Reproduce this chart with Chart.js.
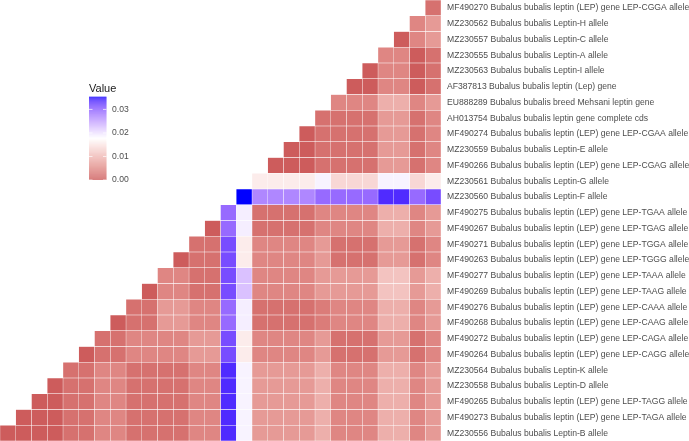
<!DOCTYPE html>
<html>
<head>
<meta charset="utf-8">
<script src="https://cdn.jsdelivr.net/npm/chart.js@4.4.1/dist/chart.umd.min.js"></script>
<style>
  html, body { margin: 0; padding: 0; background: #fff; }
  canvas { display: block; }
</style>
</head>
<body>
<canvas id="heat" width="689" height="441"></canvas>
<script>
// Sequence names, top to bottom (right-hand labels)
const rowLabels = [
  "MF490270 Bubalus bubalis leptin (LEP) gene LEP-CGGA allele",
  "MZ230562 Bubalus bubalis Leptin-H allele",
  "MZ230557 Bubalus bubalis Leptin-C allele",
  "MZ230555 Bubalus bubalis Leptin-A allele",
  "MZ230563 Bubalus bubalis Leptin-I allele",
  "AF387813 Bubalus bubalis leptin (Lep) gene",
  "EU888289 Bubalus bubalis breed Mehsani leptin gene",
  "AH013754 Bubalus bubalis leptin gene complete cds",
  "MF490274 Bubalus bubalis leptin (LEP) gene LEP-CGAA allele",
  "MZ230559 Bubalus bubalis Leptin-E allele",
  "MF490266 Bubalus bubalis leptin (LEP) gene LEP-CGAG allele",
  "MZ230561 Bubalus bubalis Leptin-G allele",
  "MZ230560 Bubalus bubalis Leptin-F allele",
  "MF490275 Bubalus bubalis leptin (LEP) gene LEP-TGAA allele",
  "MF490267 Bubalus bubalis leptin (LEP) gene LEP-TGAG allele",
  "MF490271 Bubalus bubalis leptin (LEP) gene LEP-TGGA allele",
  "MF490263 Bubalus bubalis leptin (LEP) gene LEP-TGGG allele",
  "MF490277 Bubalus bubalis leptin (LEP) gene LEP-TAAA allele",
  "MF490269 Bubalus bubalis leptin (LEP) gene LEP-TAAG allele",
  "MF490276 Bubalus bubalis leptin (LEP) gene LEP-CAAA allele",
  "MF490268 Bubalus bubalis leptin (LEP) gene LEP-CAAG allele",
  "MF490272 Bubalus bubalis leptin (LEP) gene LEP-CAGA allele",
  "MF490264 Bubalus bubalis leptin (LEP) gene LEP-CAGG allele",
  "MZ230564 Bubalus bubalis Leptin-K allele",
  "MZ230558 Bubalus bubalis Leptin-D allele",
  "MF490265 Bubalus bubalis leptin (LEP) gene LEP-TAGG allele",
  "MF490273 Bubalus bubalis leptin (LEP) gene LEP-TAGA allele",
  "MZ230556 Bubalus bubalis Leptin-B allele"
];

// Distance values per row, left to right (row r has r+1 cells ending at the right edge)
const distances = [
  [0.0022],
  [0.0045, 0.0067],
  [0, 0.0045, 0.0067],
  [0.0045, 0.0045, 0, 0.0022],
  [0, 0.0045, 0.0045, 0, 0.0022],
  [0, 0, 0.0045, 0.0045, 0, 0.0022],
  [0.0045, 0.0045, 0.0045, 0.0090, 0.0090, 0.0045, 0.0067],
  [0.0022, 0.0022, 0.0022, 0.0022, 0.0067, 0.0067, 0.0022, 0.0045],
  [0, 0.0022, 0.0022, 0.0022, 0.0022, 0.0067, 0.0067, 0.0022, 0.0045],
  [0, 0, 0.0022, 0.0022, 0.0022, 0.0022, 0.0067, 0.0067, 0.0022, 0.0045],
  [0, 0, 0, 0.0022, 0.0022, 0.0022, 0.0022, 0.0067, 0.0067, 0.0022, 0.0045],
  [0.0157, 0.0157, 0.0157, 0.0157, 0.0186, 0.0134, 0.0134, 0.0134, 0.0186, 0.0186, 0.0134, 0.0157],
  [0.0354, 0.0269, 0.0269, 0.0269, 0.0269, 0.0291, 0.0291, 0.0291, 0.0291, 0.0336, 0.0336, 0.0291, 0.0314],
  [0.0291, 0.0190, 0.0022, 0.0022, 0.0022, 0.0022, 0.0045, 0.0045, 0.0045, 0.0045, 0.0090, 0.0090, 0.0045, 0.0067],
  [0, 0.0291, 0.0190, 0.0022, 0.0022, 0.0022, 0.0022, 0.0045, 0.0045, 0.0045, 0.0045, 0.0090, 0.0090, 0.0045, 0.0067],
  [0.0022, 0.0022, 0.0314, 0.0157, 0.0045, 0.0045, 0.0045, 0.0045, 0.0067, 0.0022, 0.0022, 0.0022, 0.0067, 0.0067, 0.0022, 0.0045],
  [0, 0.0022, 0.0022, 0.0314, 0.0157, 0.0045, 0.0045, 0.0045, 0.0045, 0.0067, 0.0022, 0.0022, 0.0022, 0.0067, 0.0067, 0.0022, 0.0045],
  [0.0045, 0.0045, 0.0022, 0.0022, 0.0314, 0.0224, 0.0045, 0.0045, 0.0045, 0.0045, 0.0067, 0.0067, 0.0067, 0.0067, 0.0112, 0.0112, 0.0067, 0.0090],
  [0, 0.0045, 0.0045, 0.0022, 0.0022, 0.0314, 0.0224, 0.0045, 0.0045, 0.0045, 0.0045, 0.0067, 0.0067, 0.0067, 0.0067, 0.0112, 0.0112, 0.0067, 0.0090],
  [0.0022, 0.0022, 0.0067, 0.0067, 0.0045, 0.0045, 0.0291, 0.0190, 0.0022, 0.0022, 0.0022, 0.0022, 0.0034, 0.0045, 0.0045, 0.0045, 0.0090, 0.0090, 0.0045, 0.0067],
  [0, 0.0022, 0.0022, 0.0067, 0.0067, 0.0045, 0.0045, 0.0291, 0.0190, 0.0022, 0.0022, 0.0022, 0.0022, 0.0034, 0.0045, 0.0045, 0.0045, 0.0090, 0.0090, 0.0045, 0.0067],
  [0.0022, 0.0022, 0.0045, 0.0045, 0.0045, 0.0045, 0.0067, 0.0067, 0.0314, 0.0157, 0.0045, 0.0045, 0.0045, 0.0045, 0.0067, 0.0022, 0.0022, 0.0022, 0.0067, 0.0067, 0.0022, 0.0045],
  [0, 0.0022, 0.0022, 0.0045, 0.0045, 0.0045, 0.0045, 0.0067, 0.0067, 0.0314, 0.0157, 0.0045, 0.0045, 0.0045, 0.0045, 0.0067, 0.0022, 0.0022, 0.0022, 0.0067, 0.0067, 0.0022, 0.0045],
  [0.0022, 0.0022, 0.0045, 0.0045, 0.0022, 0.0022, 0.0022, 0.0022, 0.0045, 0.0045, 0.0336, 0.0186, 0.0067, 0.0067, 0.0067, 0.0067, 0.0090, 0.0045, 0.0045, 0.0045, 0.0090, 0.0090, 0.0045, 0.0067],
  [0, 0.0022, 0.0022, 0.0045, 0.0045, 0.0022, 0.0022, 0.0022, 0.0022, 0.0045, 0.0045, 0.0336, 0.0186, 0.0067, 0.0067, 0.0067, 0.0067, 0.0090, 0.0045, 0.0045, 0.0045, 0.0090, 0.0090, 0.0045, 0.0067],
  [0, 0, 0.0022, 0.0022, 0.0045, 0.0045, 0.0022, 0.0022, 0.0022, 0.0022, 0.0045, 0.0045, 0.0336, 0.0186, 0.0067, 0.0067, 0.0067, 0.0067, 0.0090, 0.0045, 0.0045, 0.0045, 0.0090, 0.0090, 0.0045, 0.0067],
  [0, 0, 0, 0.0022, 0.0022, 0.0045, 0.0045, 0.0022, 0.0022, 0.0022, 0.0022, 0.0045, 0.0045, 0.0336, 0.0186, 0.0067, 0.0067, 0.0067, 0.0067, 0.0090, 0.0045, 0.0045, 0.0045, 0.0090, 0.0090, 0.0045, 0.0067],
  [0, 0, 0, 0, 0.0022, 0.0022, 0.0045, 0.0045, 0.0022, 0.0022, 0.0022, 0.0022, 0.0045, 0.0045, 0.0336, 0.0186, 0.0067, 0.0067, 0.0067, 0.0067, 0.0090, 0.0045, 0.0045, 0.0045, 0.0090, 0.0090, 0.0045, 0.0067]
];

// Colour scale (low - mid - high)
const scaleLimits = [0, 0.0177, 0.0354];
const scaleColors = ["#CD5C5C", "#FFFFFF", "#0000FF"];
const legendTicks = [0, 0.01, 0.02, 0.03];
const legendTickLabels = ["0.00", "0.01", "0.02", "0.03"];

// --- Lab interpolation helpers (same idea as ggplot's gradient2) ---
function hexToRgb(h) {
  return [parseInt(h.substr(1, 2), 16), parseInt(h.substr(3, 2), 16), parseInt(h.substr(5, 2), 16)];
}
function toLin(c) { c /= 255; return c <= 0.04045 ? c / 12.92 : Math.pow((c + 0.055) / 1.055, 2.4); }
function fromLin(c) {
  const v = c <= 0.0031308 ? 12.92 * c : 1.055 * Math.pow(c, 1 / 2.4) - 0.055;
  return Math.round(Math.max(0, Math.min(1, v)) * 255);
}
function rgbToLab(rgb) {
  const r = toLin(rgb[0]), g = toLin(rgb[1]), b = toLin(rgb[2]);
  const X = (0.4124 * r + 0.3576 * g + 0.1805 * b) / 0.95047;
  const Y = (0.2126 * r + 0.7152 * g + 0.0722 * b);
  const Z = (0.0193 * r + 0.1192 * g + 0.9505 * b) / 1.08883;
  const f = t => t > 0.008856 ? Math.cbrt(t) : 7.787 * t + 16 / 116;
  const fx = f(X), fy = f(Y), fz = f(Z);
  return [116 * fy - 16, 500 * (fx - fy), 200 * (fy - fz)];
}
function labToRgb(lab) {
  const fy = (lab[0] + 16) / 116, fx = fy + lab[1] / 500, fz = fy - lab[2] / 200;
  const inv = t => t * t * t > 0.008856 ? t * t * t : (t - 16 / 116) / 7.787;
  const X = inv(fx) * 0.95047, Y = inv(fy), Z = inv(fz) * 1.08883;
  const r = 3.2406 * X - 1.5372 * Y - 0.4986 * Z;
  const g = -0.9689 * X + 1.8758 * Y + 0.0415 * Z;
  const b = 0.0557 * X - 0.2040 * Y + 1.0570 * Z;
  return [fromLin(r), fromLin(g), fromLin(b)];
}
const labStops = scaleColors.map(c => rgbToLab(hexToRgb(c)));

function valueColor(v) {
  let a, b, t;
  if (v <= scaleLimits[1]) {
    a = labStops[0]; b = labStops[1];
    t = (v - scaleLimits[0]) / (scaleLimits[1] - scaleLimits[0]);
  } else {
    a = labStops[1]; b = labStops[2];
    t = (v - scaleLimits[1]) / (scaleLimits[2] - scaleLimits[1]);
  }
  t = Math.max(0, Math.min(1, t));
  const rgb = labToRgb([a[0] + (b[0] - a[0]) * t, a[1] + (b[1] - a[1]) * t, a[2] + (b[2] - a[2]) * t]);
  return "rgb(" + rgb.join(",") + ")";
}

// One dataset per column; each row gets a floating bar [col, col+1]
const N = rowLabels.length;
const datasets = [];
for (let c = 0; c < N; c++) {
  const data = [];
  const colors = [];
  for (let r = 0; r < N; r++) {
    const start = N - 1 - r;
    if (c >= start) {
      data.push([c, c + 1]);
      colors.push(valueColor(distances[r][c - start]));
    } else {
      data.push(null);
      colors.push("rgba(0,0,0,0)");
    }
  }
  datasets.push({
    data: data,
    backgroundColor: colors,
    borderColor: "rgba(255,255,255,0.55)",
    borderWidth: 0.5,
    borderSkipped: false,
    barPercentage: 1,
    categoryPercentage: 1,
    grouped: false
  });
}

// Colour bar legend, drawn after the chart
const colorbarLegend = {
  id: "colorbarLegend",
  afterDraw(chart) {
    const ctx = chart.ctx;
    const x0 = 89, w = 17.5, top = 96.7, bottom = 180;
    const pxPer = (bottom - top) / (scaleLimits[2] - scaleLimits[0]);
    ctx.save();
    ctx.fillStyle = "#1a1a1a";
    ctx.font = "11px 'Liberation Sans', Arial, sans-serif";
    ctx.textBaseline = "alphabetic";
    ctx.textAlign = "left";
    ctx.fillText("Value", 89, 92);
    for (let y = top; y < bottom; y += 1) {
      const v = scaleLimits[2] - (y + 0.5 - top) / pxPer;
      ctx.fillStyle = valueColor(v);
      ctx.fillRect(x0, y, w, Math.min(1, bottom - y));
    }
    ctx.font = "8.6px 'Liberation Sans', Arial, sans-serif";
    ctx.textBaseline = "middle";
    legendTicks.forEach((t, i) => {
      const y = bottom - (t - scaleLimits[0]) * pxPer;
      ctx.strokeStyle = "rgba(255,255,255,0.7)";
      ctx.lineWidth = 1;
      ctx.beginPath();
      ctx.moveTo(x0, y); ctx.lineTo(x0 + w / 5, y);
      ctx.moveTo(x0 + w - w / 5, y); ctx.lineTo(x0 + w, y);
      ctx.stroke();
      ctx.fillStyle = "#4d4d4d";
      ctx.fillText(legendTickLabels[i], 112, y);
    });
    ctx.restore();
  }
};

new Chart(document.getElementById("heat").getContext("2d"), {
  type: "bar",
  data: { labels: rowLabels, datasets: datasets },
  options: {
    indexAxis: "y",
    responsive: false,
    animation: false,
    devicePixelRatio: 1,
    layout: { padding: 0 },
    plugins: { legend: { display: false }, tooltip: { enabled: false } },
    scales: {
      x: { type: "linear", min: 0, max: N, display: false },
      y: {
        type: "category",
        position: "right",
        grid: { display: false, drawTicks: false },
        border: { display: false },
        ticks: {
          color: "#4d4d4d",
          padding: 6,
          autoSkip: false,
          font: { family: "'Liberation Sans', Arial, sans-serif", size: 8.6 }
        },
        afterFit(scale) {
          scale.width = 248;
          scale.paddingTop = 0;
          scale.paddingBottom = 0;
        }
      }
    }
  },
  plugins: [colorbarLegend]
});
</script>
</body>
</html>
